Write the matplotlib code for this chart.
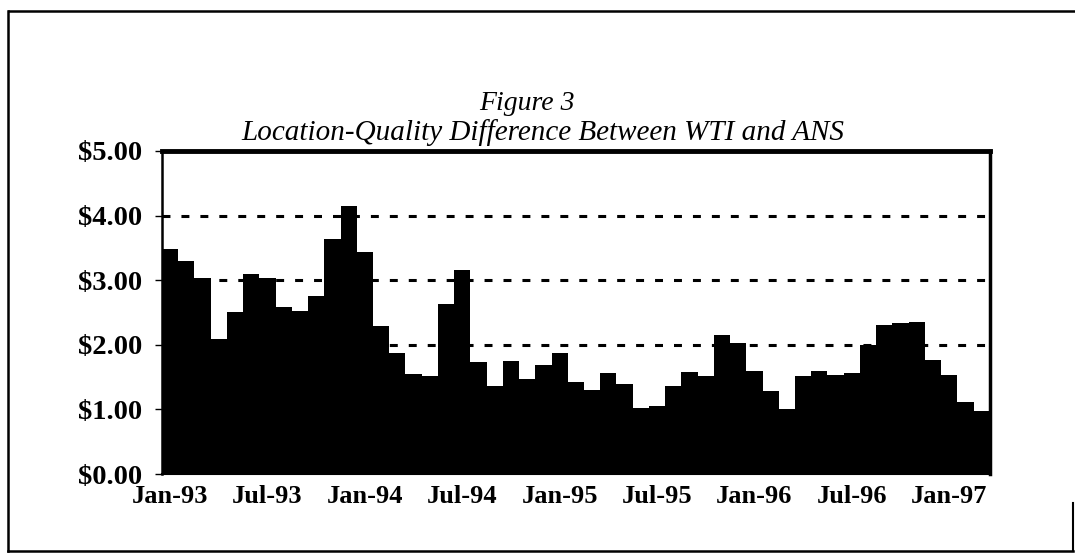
import matplotlib
matplotlib.use("Agg")
import matplotlib.pyplot as plt
from matplotlib.lines import Line2D

# monthly WTI - ANS location/quality difference, Jan-93 .. Mar-97 ($/bbl)
diff = [3.48, 3.30, 3.03, 2.09, 2.51, 3.09, 3.03, 2.58, 2.52, 2.75, 3.64, 4.15,
        3.43, 2.29, 1.87, 1.55, 1.52, 2.63, 3.16, 1.73, 1.36, 1.75, 1.47, 1.69,
        1.87, 1.43, 1.30, 1.56, 1.39, 1.02, 1.06, 1.36, 1.58, 1.51, 2.15, 2.03,
        1.59, 1.29, 1.01, 1.51, 1.60, 1.53, 1.57, 2.00, 2.31, 2.34, 2.36, 1.76,
        1.53, 1.11, 0.98]
tick_idx = [0, 6, 12, 18, 24, 30, 36, 42, 48]
tick_lab = ["Jan-93", "Jul-93", "Jan-94", "Jul-94", "Jan-95", "Jul-95",
            "Jan-96", "Jul-96", "Jan-97"]
y_ticks = [0, 1, 2, 3, 4, 5]
grid_y = [2, 3, 4]

plt.rcParams['font.family'] = ['Liberation Serif', 'DejaVu Serif']

fig = plt.figure(figsize=(10.75, 5.59), dpi=100)
ax = fig.add_axes([0.1507, 0.152, 0.770, 0.578])

for g in grid_y:
    ax.axhline(g, color='black', lw=2.2, dashes=(2.6, 3.6), zorder=1)

ax.bar(range(len(diff)), diff, width=1.0, color='black', edgecolor='none', zorder=2)

ax.set_xlim(-0.5, len(diff) - 0.5)
ax.set_ylim(0, 5)
ax.set_yticks(y_ticks)
ax.set_yticklabels(["$%.2f" % v for v in y_ticks])
ax.set_xticks(tick_idx)
ax.set_xticklabels(tick_lab)
ax.tick_params(axis='y', length=5, width=1, pad=9, labelsize=20.5)
ax.tick_params(axis='x', length=0, pad=8, labelsize=19)
for lab in ax.get_xticklabels() + ax.get_yticklabels():
    lab.set_fontweight('bold')

ax.spines['top'].set_linewidth(3.5)
ax.spines['right'].set_linewidth(2.5)
ax.spines['left'].set_linewidth(1.8)
ax.spines['bottom'].set_linewidth(1.5)

W, H = 1075.0, 559.0
fig.text(527 / W, 1 - 104 / H, "Figure 3", ha='center', va='center', fontsize=20, style='italic')
fig.text(543 / W, 1 - 133 / H, "Location-Quality Difference Between WTI and ANS",
         ha='center', va='center', fontsize=21, style='italic')

# outer border of the figure box
fig.add_artist(Line2D([9 / W, 1075 / W], [1 - 11 / H, 1 - 11 / H], color='black', lw=1.8))
fig.add_artist(Line2D([8 / W, 8 / W], [1 - 11 / H, 1 - 551 / H], color='black', lw=1.8))
fig.add_artist(Line2D([8 / W, 1073 / W], [1 - 551 / H, 1 - 551 / H], color='black', lw=1.8))
fig.add_artist(Line2D([1073 / W, 1073 / W], [1 - 503 / H, 1 - 551 / H], color='black', lw=1.5))

fig.savefig("out.png", dpi=100)
